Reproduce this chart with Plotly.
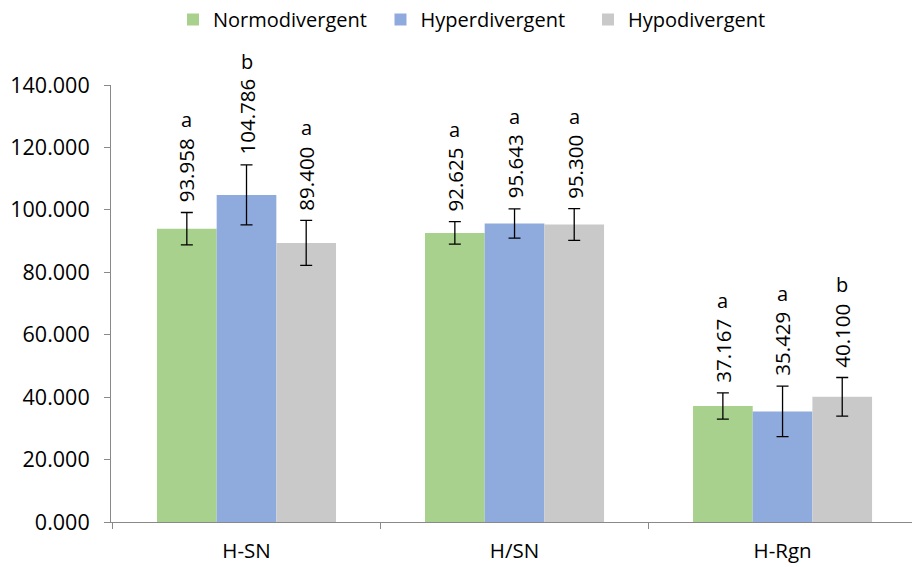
import plotly.graph_objects as go

categories = ["H-SN", "H/SN", "H-Rgn"]
series_names = ["Normodivergent", "Hyperdivergent", "Hypodivergent"]
normo_values = [93.958, 92.625, 37.167]
hyper_values = [104.786, 95.643, 35.429]
hypo_values = [89.400, 95.300, 40.100]
normo_errors = [5.2, 3.6, 4.2]
hyper_errors = [9.6, 4.7, 8.1]
hypo_errors = [7.2, 5.1, 6.2]
normo_letters = ["a", "a", "a"]
hyper_letters = ["b", "a", "a"]
hypo_letters = ["a", "a", "b"]
y_ticks = [0, 20, 40, 60, 80, 100, 120, 140]

colors = ["#A9D18E", "#8FAADC", "#C9C9C9"]
FONT = "Open Sans"
FS = 20
BARGAP = 0.332

values = [normo_values, hyper_values, hypo_values]
errors = [normo_errors, hyper_errors, hypo_errors]
letters = [normo_letters, hyper_letters, hypo_letters]

fig = go.Figure()
for j in range(3):
    fig.add_trace(go.Bar(
        x=categories, y=values[j], name=series_names[j],
        marker=dict(color=colors[j], line=dict(width=0)),
        error_y=dict(type="data", array=errors[j], color="black", thickness=1.3, width=6),
    ))

w = (1 - BARGAP) / 3
annotations = []
for j in range(3):
    for i in range(3):
        xpos = i + (j - 1) * w
        top = values[j][i] + errors[j][i]
        label = f"{values[j][i]:.3f}"
        annotations.append(dict(
            x=xpos, y=top, xref="x", yref="y", text=label, textangle=-90,
            showarrow=False, xanchor="center", yanchor="bottom", yshift=8,
            font=dict(family=FONT, size=20.5, color="black"),
        ))
        tl = len(label) * 11
        annotations.append(dict(
            x=xpos, y=top, xref="x", yref="y", text=letters[j][i],
            showarrow=False, xanchor="center", yanchor="bottom", yshift=8 + tl + 3,
            font=dict(family=FONT, size=FS, color="black"),
        ))

fig.update_layout(
    width=912, height=567,
    margin=dict(l=111, r=0, t=84, b=45),
    paper_bgcolor="white", plot_bgcolor="white",
    barmode="group", bargap=BARGAP, bargroupgap=0,
    font=dict(family=FONT, size=FS, color="black"),
    showlegend=True,
    legend=dict(orientation="h", x=0.0774, xanchor="left", y=1.15, yanchor="middle",
                entrywidth=162.5, entrywidthmode="pixels",
                font=dict(family=FONT, size=FS, color="black"), traceorder="normal"),
    annotations=annotations,
    xaxis=dict(range=[-0.5056, 2.483], showline=True, linecolor="#898989", linewidth=1,
               ticks="outside", tickson="boundaries", ticklen=6, tickcolor="#898989",
               showgrid=False, ticklabelstandoff=10, tickfont=dict(size=20.5)),
    yaxis=dict(range=[0, 140], tickvals=y_ticks, tickformat=".3f", showline=True,
               linecolor="#898989", linewidth=1, ticks="outside", ticklen=6,
               tickcolor="#898989", showgrid=False, zeroline=False, ticklabelstandoff=10,
               tickfont=dict(size=21.5)),
)

fig.write_html("out.html")
